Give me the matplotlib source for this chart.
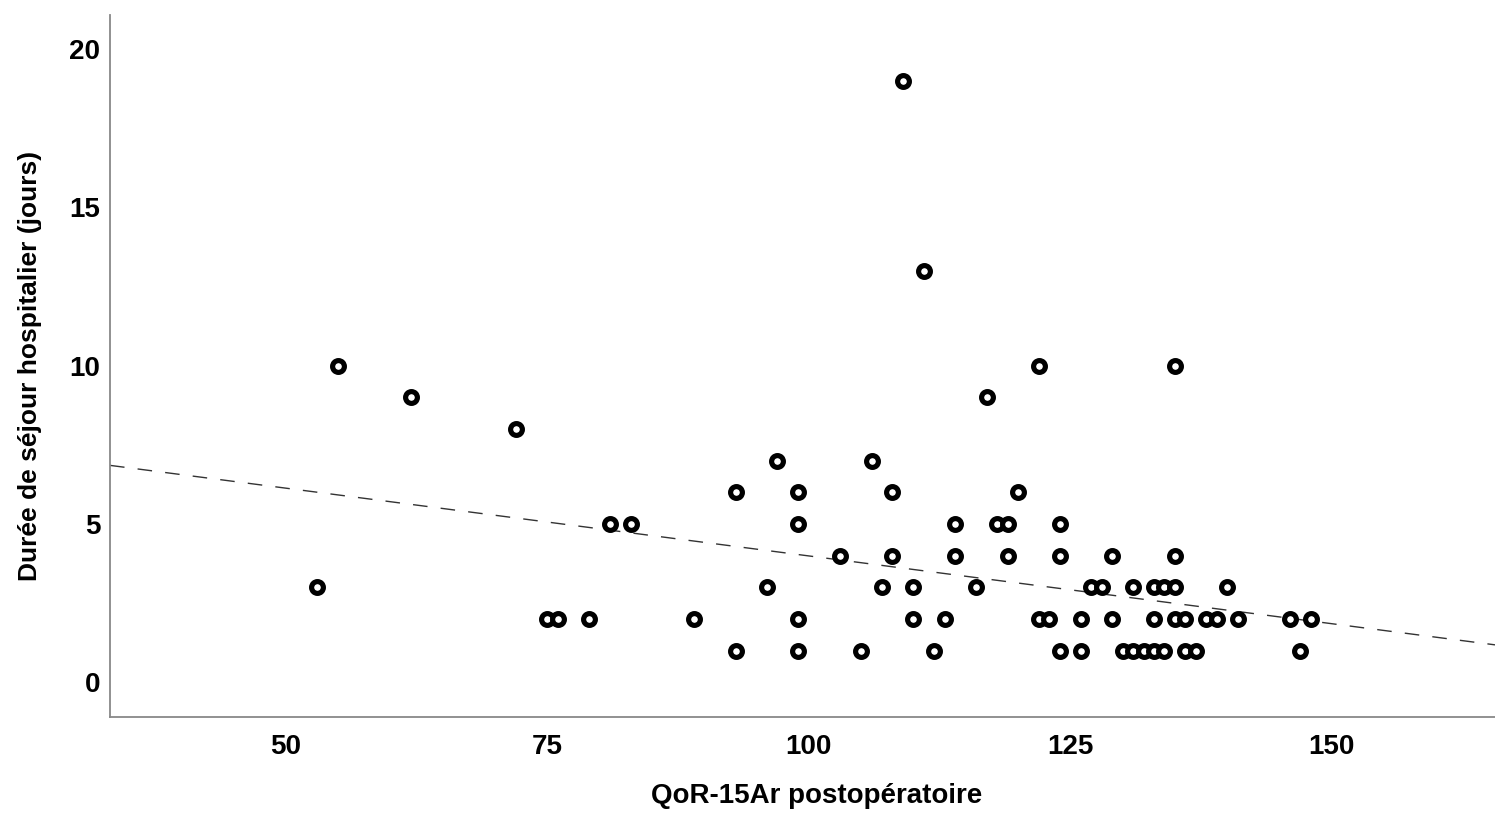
import numpy as np
import matplotlib
matplotlib.use("Agg")
import matplotlib.pyplot as plt

plt.rcParams['font.family'] = ['Liberation Sans', 'DejaVu Sans']

# QoR-15Ar score vs length of stay, grouped by stay (days)
stay_days = [19, 13, 10, 9, 8, 7, 6, 5, 4, 3, 2, 1]
qor_by_stay = [
    [109],
    [111],
    [55, 122, 135],
    [62, 117],
    [72],
    [97, 106],
    [93, 99, 108, 120],
    [81, 83, 99, 114, 118, 119, 124],
    [103, 108, 114, 119, 124, 129, 135],
    [53, 96, 107, 110, 116, 127, 128, 131, 133, 134, 135, 140],
    [75, 76, 79, 89, 99, 110, 113, 122, 123, 126, 129, 133, 135, 136, 138, 139, 141, 146, 148],
    [93, 99, 105, 112, 124, 126, 130, 131, 132, 133, 134, 136, 137, 147],
]
x_ticks = [50, 75, 100, 125, 150]
y_ticks = [0, 5, 10, 15, 20]

# fit line as shown on the chart
fit_intercept = 8.27
fit_slope = -0.0428

x = np.concatenate([np.array(v, dtype=float) for v in qor_by_stay])
y = np.concatenate([np.full(len(v), d, dtype=float) for v, d in zip(qor_by_stay, stay_days)])

fig = plt.figure(figsize=(14.95, 8.14), dpi=100)
ax = fig.add_axes([0.0736, 0.119, 0.9264, 0.8626])

ax.plot(x, y, linestyle='none', marker='o', markersize=8.5, markeredgewidth=3.7,
        markerfacecolor='white', markeredgecolor='black', zorder=3)

xlim = (33.2, 165.6)
xs = np.array(xlim)
ax.plot(xs, fit_intercept + fit_slope * xs, color='#333333', linewidth=1.0,
        linestyle=(0, (10.5, 9.5)), zorder=2)

ax.set_xlim(*xlim)
ax.set_ylim(-1.1, 21.07)
ax.set_xticks(x_ticks)
ax.set_yticks(y_ticks)

for s in ['top', 'right']:
    ax.spines[s].set_visible(False)
for s in ['left', 'bottom']:
    ax.spines[s].set_color('#888888')
    ax.spines[s].set_linewidth(1.3)

ax.tick_params(axis='x', length=0, pad=12, labelsize=20)
ax.tick_params(axis='y', length=0, pad=7, labelsize=20)
for lab in ax.get_xticklabels() + ax.get_yticklabels():
    lab.set_fontweight('bold')

ax.set_xlabel('QoR-15Ar postopératoire', fontsize=20, fontweight='bold')
ax.set_ylabel('Durée de séjour hospitalier (jours)', fontsize=19, fontweight='bold')
ax.xaxis.set_label_coords(0.51, -0.113)
ax.xaxis.label.set_va('center')
ax.yaxis.set_label_coords(-0.058, 0.5)
ax.yaxis.label.set_va('center')

fig.savefig('out.png', dpi=100)
